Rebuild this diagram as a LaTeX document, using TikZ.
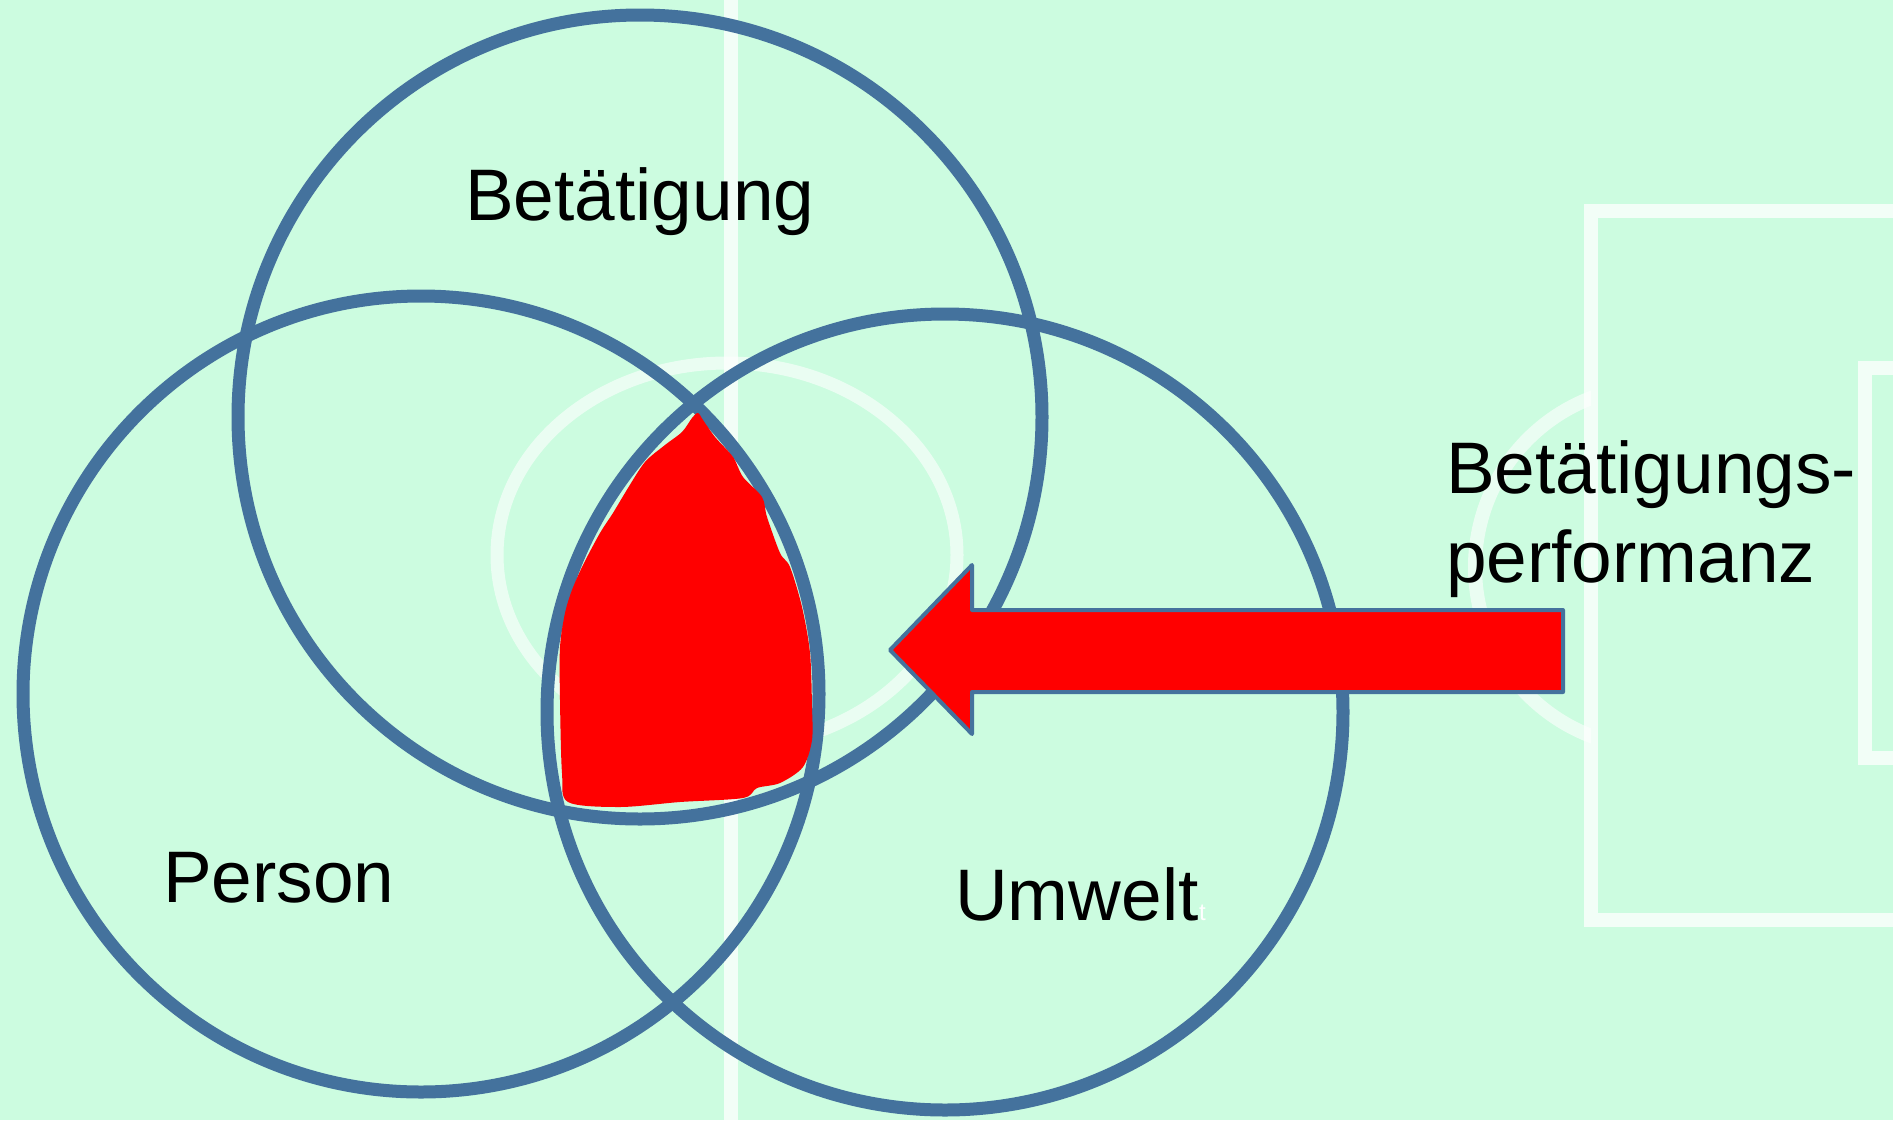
\documentclass[tikz,border=0pt]{standalone}
\usepackage{fontspec}
\setmainfont{Liberation Sans}
\definecolor{bg}{RGB}{204,252,224}
\definecolor{ringblue}{RGB}{68,114,157}
\begin{document}
\begin{tikzpicture}[x=1pt,y=-1pt,
  field/.style={draw=white, draw opacity=0.75, line width=14pt},
  ring/.style={circle, draw=ringblue, line width=13pt, minimum size=#1, inner sep=0pt},
  lbl/.style={font=\fontsize{73}{87}\selectfont, inner sep=0pt, text=black}]
\useasboundingbox (0,0) rectangle (1893,1120);
\fill[bg] (0,0) rectangle (1893,1120);
% faint field lines
\draw[field] (731,-10) -- (731,1130);
\draw[field, draw opacity=0.6, line width=13pt] (727,555) ellipse [x radius=230, y radius=192];
\draw[field] (1910,211) -- (1591,211) -- (1591,920) -- (1910,920);
\draw[field] (1910,368) -- (1865,368) -- (1865,758) -- (1910,758);
\begin{scope}
  \clip (1300,300) rectangle (1591,850);
  \draw[field, draw opacity=0.6] (1656,567) circle [radius=181];
\end{scope}
% circles
\node[ring=804pt] (cbet) at (640,417) {};
\node[ring=796pt] (cper) at (421,694) {};
\node[ring=796pt] (cumw) at (945,712) {};
% red blob
\fill[red] plot[smooth cycle, tension=0.5] coordinates {
 (698,413) (703,420) (715,437) (733,457) (743,477) (762,497) (767,517)
 (780,553) (790,567) (802,607) (810,653) (812,707) (812,740)
 (803,767) (780,783) (757,788) (743,798) (680,802)
 (620,807) (568,802) (562,773) (560,700) (560,647) (565,613) (572,590)
 (583,565) (600,533) (613,513) (628,488) (645,462)
 (665,445) (682,432) (692,418)};
% arrow
\draw[ringblue, line width=4pt, fill=red, line join=round]
  (890,650) -- (972,565) -- (972,610) -- (1563,610) -- (1563,692)
  -- (972,692) -- (972,734) -- cycle;
% labels
\node[lbl, anchor=base west] (tbet) at (465,220) {Betätigung};
\node[lbl, anchor=base west] (tper) at (163,902) {Person};
\node[lbl, anchor=base west] (tumw) at (955,920) {Umwelt};
\node[anchor=base west, inner sep=0pt, text=white, font=\fontsize{24}{28}\selectfont] (tsmall) at (1199,920) {t};
\node[lbl, anchor=base west] (tperf1) at (1446,493) {Betätigungs-};
\node[lbl, anchor=base west] (tperf2) at (1446,582) {performanz};
\end{tikzpicture}
\end{document}
